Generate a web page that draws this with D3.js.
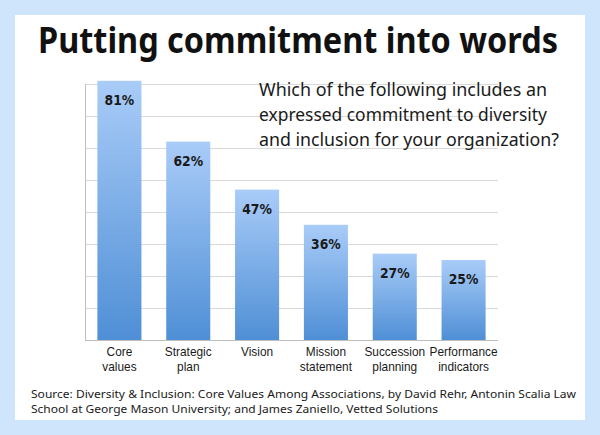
<!DOCTYPE html>
<html><head><meta charset="utf-8">
<script src="https://cdn.jsdelivr.net/npm/d3@7"></script>
<style>
html,body{margin:0;padding:0;background:#cfe5fc;}
svg{display:block;}
text{font-family:"Noto Sans","Open Sans",sans-serif;}
</style></head>
<body><svg id="c" width="600" height="435"></svg>
<script>
const categories = [["Core","values"],["Strategic","plan"],["Vision"],["Mission","statement"],["Succession","planning"],["Performance","indicators"]];
const values = [81, 62, 47, 36, 27, 25];
const yTicks = [0,10,20,30,40,50,60,70,80];
const titleText = "Putting commitment into words";
const questionLines = ["Which of the following includes an","expressed commitment to diversity","and inclusion for your organization?"];
const sourceLines = ["Source: Diversity & Inclusion: Core Values Among Associations, by David Rehr, Antonin Scalia Law","School at George Mason University; and James Zaniello, Vetted Solutions"];

const svg = d3.select("#c");
svg.append("rect").attr("x",0).attr("y",0).attr("width",600).attr("height",435).attr("fill","#cfe5fc");
svg.append("rect").attr("x",15).attr("y",15).attr("width",570).attr("height",405).attr("fill","#ffffff");

const defs = svg.append("defs");
const g = defs.append("linearGradient").attr("id","barGrad").attr("x1",0).attr("y1",0).attr("x2",0).attr("y2",1);
g.append("stop").attr("offset","0%").attr("stop-color","#a9ccf8");
g.append("stop").attr("offset","100%").attr("stop-color","#4f8fd6");

const x = d3.scaleBand().domain(d3.range(values.length)).range([85,498]).paddingInner(0.36).paddingOuter(0.18);
const y = d3.scaleLinear().domain([0,80]).range([340,84]);

// gridlines
svg.append("g").selectAll("line").data(yTicks).join("line")
  .attr("x1",85).attr("x2",498).attr("y1",d=>y(d)+0.5).attr("y2",d=>y(d)+0.5)
  .attr("stroke","#d9d9d9").attr("stroke-width",1);
// axis lines
svg.append("line").attr("x1",85.5).attr("x2",85.5).attr("y1",y(80)).attr("y2",y(0)).attr("stroke","#bfbfbf");
svg.append("line").attr("x1",85).attr("x2",498).attr("y1",y(0)+0.5).attr("y2",y(0)+0.5).attr("stroke","#bfbfbf");

// bars
svg.append("g").selectAll("rect").data(values).join("rect")
  .attr("x",(d,i)=>x(i)).attr("width",x.bandwidth())
  .attr("y",d=>y(d)).attr("height",d=>y(0)-y(d))
  .attr("fill","url(#barGrad)");

// value labels (slightly condensed)
svg.append("g").selectAll("text").data(values).join("text")
  .attr("transform",(d,i)=>`translate(${x(i)+x.bandwidth()/2},${y(d)+24}) scale(0.92,1)`)
  .attr("text-anchor","middle").attr("font-size",13.5).attr("font-weight","bold")
  .attr("fill","#1a1a1a").style("font-family","'DejaVu Sans',sans-serif")
  .text(d=>d+"%");

// category labels: one text per line, horizontally condensed
const catLines = [];
categories.forEach((d,i)=>d.forEach((line,j)=>catLines.push({i,j,line})));
svg.append("g").selectAll("text").data(catLines).join("text")
  .attr("transform",d=>`translate(${x(d.i)+x.bandwidth()/2},${356+d.j*14.8}) scale(0.95,1)`)
  .attr("text-anchor","middle").attr("font-size",12.5).attr("fill","#1a1a1a")
  .style("font-family","'Liberation Sans',Arial,sans-serif")
  .text(d=>d.line);

// title
svg.append("text").attr("x",38).attr("y",53).attr("font-size",35).attr("font-weight","bold")
  .attr("fill","#111").attr("textLength",520).attr("lengthAdjust","spacingAndGlyphs").text(titleText);

// question
svg.append("g").selectAll("text").data(questionLines).join("text")
  .attr("x",259).attr("y",(d,i)=>96+i*25).attr("font-size",18).attr("fill","#1a1a1a")
  .attr("textLength",(d,i)=>[288,288,300][i]).attr("lengthAdjust","spacingAndGlyphs")
  .text(d=>d);

// source
svg.append("g").selectAll("text").data(sourceLines).join("text")
  .attr("x",31).attr("y",(d,i)=>398+i*14.5).attr("font-size",11).attr("fill","#1a1a1a")
  .attr("textLength",(d,i)=>[545,407][i]).attr("lengthAdjust","spacingAndGlyphs")
  .text(d=>d);
</script></body></html>
